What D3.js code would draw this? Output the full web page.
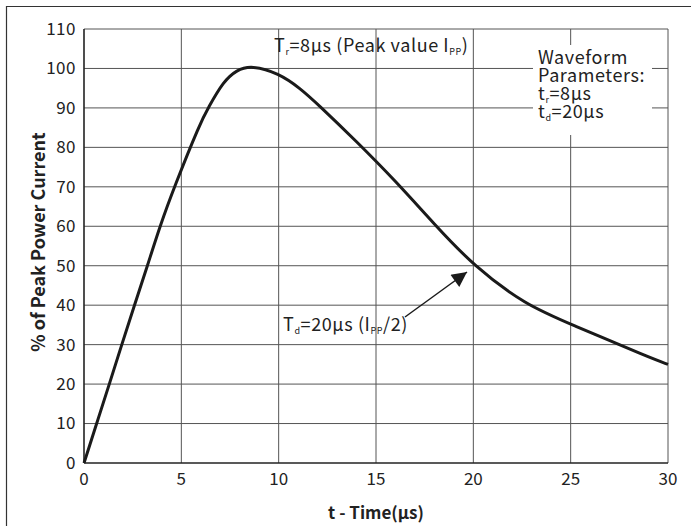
<!DOCTYPE html>
<html>
<head>
<meta charset="utf-8">
<script src="https://cdn.jsdelivr.net/npm/d3@7"></script>
<style>
  body { margin: 0; background: #fff; }
  svg text { font-family: "Noto Sans CJK SC", "Noto Sans", sans-serif; fill: #222; }
  .note { letter-spacing: 0.6px; }
</style>
</head>
<body>
<svg id="chart" width="691" height="526"></svg>
<script>
// waveform
const timeUs = [0, 0.65, 1.3, 1.94, 2.59, 3.26, 3.9, 4.64, 5.96, 6.38, 7.16, 7.84, 8.6, 10, 11.1, 12, 14, 16, 18, 20, 22.7, 25, 29.1, 30];
const peakPct = [0, 10, 20, 30, 40, 50, 60, 70, 86.1, 90, 96.7, 99.6, 100.8, 98.8, 95, 91, 81.5, 71.5, 60.5, 50, 40, 35.2, 26.6, 25];
const xTicks = [0, 5, 10, 15, 20, 25, 30];
const yTicks = [0, 10, 20, 30, 40, 50, 60, 70, 80, 90, 100, 110];
const boxLines = ['Waveform', 'Parameters:'];

const svg = d3.select('#chart');
const margin = {left: 84, right: 23, top: 29, bottom: 63};
const W = 691, H = 526;

const x = d3.scaleLinear().domain([0, 30]).range([margin.left, W - margin.right]);
const y = d3.scaleLinear().domain([0, 110]).range([H - margin.bottom, margin.top]);

// outer frame (top + left only)
svg.append('path')
    .attr('d', `M6.5,${H} V6.5 H${W}`)
    .attr('fill', 'none').attr('stroke', '#333').attr('stroke-width', 1.2);

// grid
const grid = svg.append('g').attr('stroke', '#555').attr('stroke-width', 1);
grid.selectAll('.gx').data(xTicks.slice(1)).enter().append('line')
    .attr('x1', d => x(d)).attr('x2', d => x(d))
    .attr('y1', y(0)).attr('y2', y(110));
grid.selectAll('.gy').data(yTicks.slice(1)).enter().append('line')
    .attr('x1', x(0)).attr('x2', x(30))
    .attr('y1', d => y(d)).attr('y2', d => y(d));

// axes lines
svg.append('line').attr('x1', x(0)).attr('x2', x(0)).attr('y1', y(0)).attr('y2', y(110))
    .attr('stroke', '#222').attr('stroke-width', 1.6);
svg.append('line').attr('x1', x(0)).attr('x2', x(30)).attr('y1', y(0)).attr('y2', y(0))
    .attr('stroke', '#222').attr('stroke-width', 1.6);

// tick labels
svg.selectAll('.ylab').data(yTicks).enter().append('text')
    .attr('x', x(0) - 8).attr('y', d => y(d)).attr('dy', '0.35em')
    .attr('text-anchor', 'end').attr('font-size', 17).attr('letter-spacing', 0.5).text(d => d);
svg.selectAll('.xlab').data(xTicks).enter().append('text')
    .attr('x', d => x(d)).attr('y', y(0) + 22)
    .attr('text-anchor', 'middle').attr('font-size', 17).text(d => d);

// axis titles
svg.append('text')
    .attr('x', x(15)).attr('y', 519)
    .attr('text-anchor', 'middle').attr('font-size', 17).attr('font-weight', 'bold')
    .text('t - Time(μs)');
svg.append('text')
    .attr('transform', `translate(45,${(y(0) + y(110)) / 2 - 4}) rotate(-90)`)
    .attr('text-anchor', 'middle').attr('font-size', 18).attr('font-weight', 'bold')
    .text('% of Peak Power Current');

// parameters box
svg.append('rect').attr('x', 533).attr('y', 45).attr('width', 119).attr('height', 90).attr('fill', '#fff');
svg.selectAll('.bl').data(boxLines).enter().append('text').attr('class', 'note')
    .attr('x', 538).attr('y', (d, i) => 64 + i * 18).attr('font-size', 18).text(d => d);
const l3 = svg.append('text').attr('class', 'note').attr('x', 538).attr('y', 100).attr('font-size', 18);
l3.append('tspan').text('t');
l3.append('tspan').attr('font-size', 9).attr('dy', 3).text('r');
l3.append('tspan').attr('dy', -3).text('=8μs');
const l4 = svg.append('text').attr('class', 'note').attr('x', 538).attr('y', 118).attr('font-size', 18);
l4.append('tspan').text('t');
l4.append('tspan').attr('font-size', 9).attr('dy', 3).text('d');
l4.append('tspan').attr('dy', -3).text('=20μs');

// curve
const line = d3.line().x((d, i) => x(timeUs[i])).y(d => y(d)).curve(d3.curveBasis);
svg.append('path').datum(peakPct)
    .attr('d', line)
    .attr('fill', 'none').attr('stroke', '#1a1a1a').attr('stroke-width', 3);

// Tr annotation
const tr = svg.append('text').attr('class', 'note').attr('x', 274).attr('y', 52).attr('font-size', 18);
tr.append('tspan').text('T');
tr.append('tspan').attr('font-size', 9).attr('dy', 3).text('r');
tr.append('tspan').attr('dy', -3).text('=8μs (Peak value I');
tr.append('tspan').attr('font-size', 9).attr('dy', 3).text('PP');
tr.append('tspan').attr('dy', -3).text(')');

// Td annotation
const td = svg.append('text').attr('class', 'note').attr('x', 283).attr('y', 331).attr('font-size', 18);
td.append('tspan').text('T');
td.append('tspan').attr('font-size', 9).attr('dy', 3).text('d');
td.append('tspan').attr('dy', -3).text('=20μs (I');
td.append('tspan').attr('font-size', 9).attr('dy', 3).text('PP');
td.append('tspan').attr('dy', -3).text('/2)');

svg.append('defs').append('marker')
    .attr('id', 'arrow').attr('viewBox', '0 0 10 10').attr('refX', 10).attr('refY', 5)
    .attr('markerWidth', 18).attr('markerHeight', 15).attr('markerUnits', 'userSpaceOnUse')
    .attr('orient', 'auto')
    .append('path').attr('d', 'M0,0 L10,5 L0,10 z').attr('fill', '#1a1a1a');
svg.append('line')
    .attr('x1', 405).attr('y1', 317).attr('x2', 467).attr('y2', 272)
    .attr('stroke', '#1a1a1a').attr('stroke-width', 1.5).attr('marker-end', 'url(#arrow)');
</script>
</body>
</html>
